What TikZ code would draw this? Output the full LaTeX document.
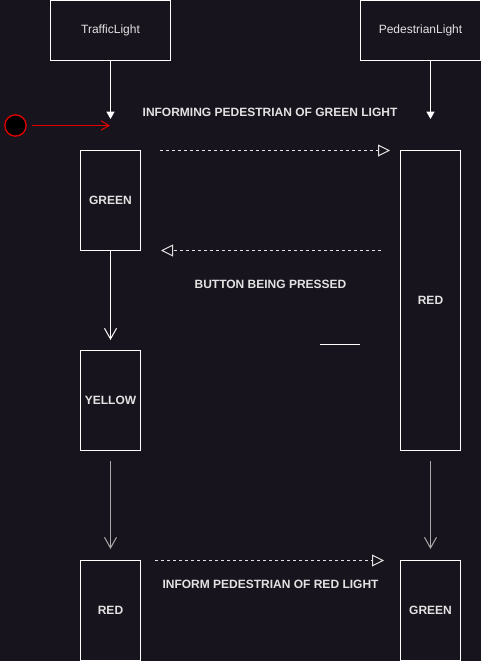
\documentclass[tikz,border=0pt]{standalone}
\usepackage{fontspec}
\setmainfont{Liberation Sans}
\usetikzlibrary{arrows.meta}
\definecolor{bg}{RGB}{24,20,29}
\definecolor{txt}{RGB}{226,226,226}
\definecolor{grayarrow}{RGB}{170,170,170}
\definecolor{redc}{RGB}{225,0,0}
\begin{document}
\begin{tikzpicture}[x=0.75pt,y=-0.75pt,line width=0.75pt,
  box/.style={draw=white,fill=bg,text=txt,inner sep=0pt,minimum width=45pt,font=\bfseries\fontsize{9}{11}\selectfont},
  headbox/.style={draw=white,fill=bg,text=txt,inner sep=0pt,minimum width=90pt,minimum height=45pt,font=\fontsize{9}{11}\selectfont},
  lbl/.style={text=txt,inner sep=0pt,font=\bfseries\fontsize{9}{11}\selectfont},
  msg/.style={draw=txt,dash pattern=on 2.25pt off 2.25pt,-{Triangle[open,length=9pt,width=9pt]}},
  solidarrow/.style={draw=white,-{Straight Barb[length=8pt,width=9pt]}},
  grayflow/.style={draw=grayarrow,-{Straight Barb[length=8pt,width=9pt]}}]
\fill[bg] (0,0) rectangle (481,661);
\useasboundingbox (0,0) rectangle (481,661);
% header boxes
\node[headbox] (tl) at (110.5,30.5) {TrafficLight};
\node[headbox] (pl) at (420.5,30.5) {PedestrianLight};
% state boxes
\node[box,minimum height=75pt] (g1) at (110.5,200.5) {GREEN};
\node[box,minimum height=225pt] (r2) at (430.5,300.5) {RED};
\node[box,minimum height=75pt] (y1) at (110.5,400.5) {YELLOW};
\node[box,minimum height=75pt] (r1) at (110.5,610.5) {RED};
\node[box,minimum height=75pt] (g2) at (430.5,610.5) {GREEN};
% initial state
\node[circle,draw=redc,line width=1pt,fill=black,minimum size=16pt,inner sep=0pt] (init) at (15.5,125.5) {};
% coordinates
\coordinate (tlend) at (110.5,119);
\coordinate (plend) at (430.5,119);
\coordinate (initend) at (110,125.5);
\coordinate (m1a) at (160,150.5);
\coordinate (m1b) at (390,150.5);
\coordinate (m2a) at (381,250.5);
\coordinate (m2b) at (161,250.5);
\coordinate (gyend) at (110.5,340);
\coordinate (yrend) at (110.5,549);
\coordinate (rgend) at (430.5,549);
\coordinate (m3a) at (155,560.5);
\coordinate (m3b) at (384,560.5);
\coordinate (sla) at (320,344.5);
\coordinate (slb) at (360,344.5);
% connectors
\draw[white,-{Triangle[length=5.5pt,width=6pt]}] (tl.south) -- (tlend);
\draw[white,-{Triangle[length=5.5pt,width=6pt]}] (plend |- pl.south) -- (plend);
\draw[redc,shorten <=3.5pt,-{Straight Barb[length=6pt,width=7pt]}] (init.east) -- (initend);
\draw[msg] (m1a) -- (m1b);
\draw[msg] (m2a) -- (m2b);
\draw[solidarrow] (g1.south) -- (gyend);
\draw[grayflow,shorten <=7.5pt] (y1.south) -- (yrend);
\draw[grayflow,shorten <=7.5pt] (r2.south) -- (rgend);
\draw[msg] (m3a) -- (m3b);
\draw[white] (sla) -- (slb);
% labels
\node[lbl] (t1) at (270,112) {INFORMING PEDESTRIAN OF GREEN LIGHT};
\node[lbl] (t2) at (270.5,284.5) {BUTTON BEING PRESSED};
\node[lbl] (t3) at (270.5,584.5) {INFORM PEDESTRIAN OF RED LIGHT};
\end{tikzpicture}
\end{document}
